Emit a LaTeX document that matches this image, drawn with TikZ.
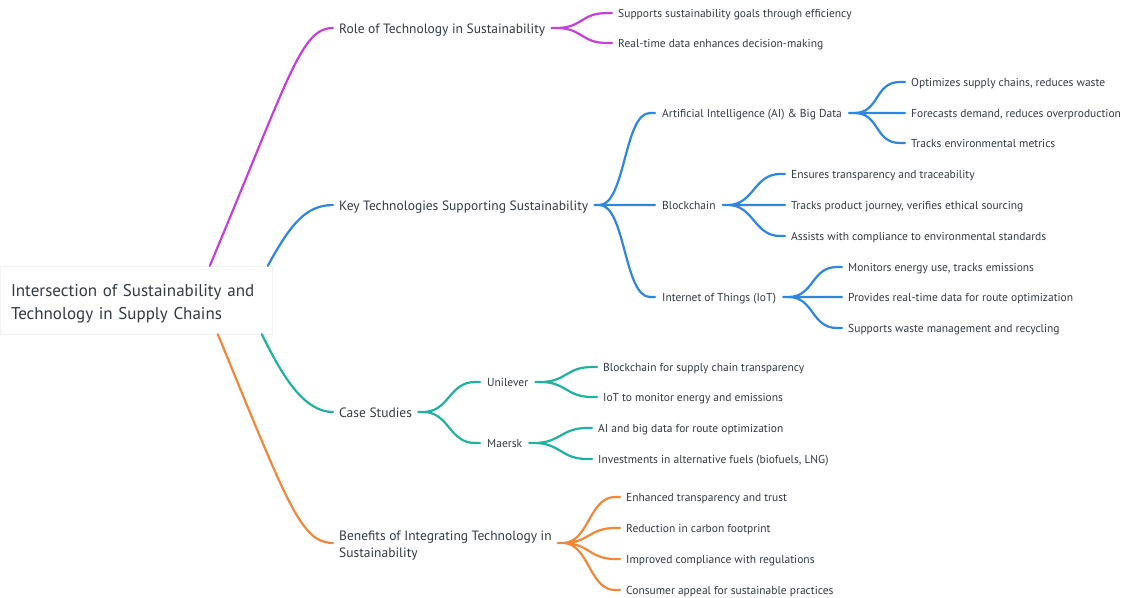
\documentclass[tikz,border=0pt]{standalone}
\usepackage{fontspec}
\setmainfont{PT Sans}
\usepackage{xcolor}
\definecolor{mapviolet}{RGB}{196,64,214}
\definecolor{mapblue}{RGB}{46,134,222}
\definecolor{mapteal}{RGB}{32,178,158}
\definecolor{maporange}{RGB}{240,136,58}
\definecolor{maptext}{RGB}{52,58,66}
\usepackage{tikz}
\usetikzlibrary{calc, positioning}

\begin{document}
\begin{tikzpicture}[x=1pt, y=-1pt, line cap=round]
  \tikzstyle{rootbox} = [rectangle, draw=black!5, fill=white, minimum width=272pt, minimum height=68pt, text width=250pt, align=left, inner xsep=11pt, text height=19pt, text depth=27pt, font=\fontsize{17}{23}\selectfont, text=maptext]
  \tikzstyle{topic} = [anchor=west, inner xsep=6pt, inner ysep=0pt, text height=10.5pt, text depth=0pt, align=left, font=\fontsize{13.5}{17}\selectfont, text=maptext]
  \tikzstyle{sub} = [anchor=west, inner xsep=7pt, inner ysep=0pt, text height=9pt, text depth=0pt, font=\fontsize{11.5}{13}\selectfont, text=maptext]
  \tikzstyle{leaf} = [anchor=west, inner xsep=6pt, inner ysep=0pt, text height=9pt, text depth=0pt, font=\fontsize{11.5}{13}\selectfont, text=maptext]
  \tikzstyle{link} = [line width=2.2pt]
  \tikzstyle{branch} = [line width=2.2pt, to path={(\tikztostart) -- ++(5,0) .. controls +(26,0) and +(-26,0) .. ([xshift=-5pt]\tikztotarget) -- (\tikztotarget)}]

  \useasboundingbox[fill=white] (0,0) rectangle (1131,597);

  \node [rootbox] (root) at (136,300) {Intersection of Sustainability and\\Technology in Supply Chains};

  \node [topic] (role) at (333,28) {Role of Technology in Sustainability};
  \node [topic] (key) at (333,205) {Key Technologies Supporting Sustainability};
  \node [topic] (cases) at (333,412) {Case Studies};
  \node [topic, text height=37pt, text depth=9pt] (benefits) at (333,543) {Benefits of Integrating Technology in\\Sustainability};

  % role of technology
  \node [leaf] (role1) at (612,13) {Supports sustainability goals through efficiency};
  \node [leaf] (role2) at (612,43) {Real-time data enhances decision-making};

  % key technologies
  \node [sub] (ai) at (655,113) {Artificial Intelligence (AI) \& Big Data};
  \node [sub] (chain) at (655,205) {Blockchain};
  \node [sub] (iot) at (655,297) {Internet of Things (IoT)};

  \node [leaf] (ai1) at (905,82) {Optimizes supply chains, reduces waste};
  \node [leaf] (ai2) at (905,113) {Forecasts demand, reduces overproduction};
  \node [leaf] (ai3) at (905,143) {Tracks environmental metrics};

  \node [leaf] (chain1) at (785,174) {Ensures transparency and traceability};
  \node [leaf] (chain2) at (785,205) {Tracks product journey, verifies ethical sourcing};
  \node [leaf] (chain3) at (785,236) {Assists with compliance to environmental standards};

  \node [leaf] (iot1) at (842,267) {Monitors energy use, tracks emissions};
  \node [leaf] (iot2) at (842,297) {Provides real-time data for route optimization};
  \node [leaf] (iot3) at (842,328) {Supports waste management and recycling};

  % case studies
  \node [sub] (unilever) at (480,382) {Unilever};
  \node [sub] (maersk) at (480,443) {Maersk};

  \node [leaf] (uni1) at (597,367) {Blockchain for supply chain transparency};
  \node [leaf] (uni2) at (597,397) {IoT to monitor energy and emissions};
  \node [leaf] (mae1) at (592,428) {AI and big data for route optimization};
  \node [leaf] (mae2) at (592,459) {Investments in alternative fuels (biofuels, LNG)};

  % benefits
  \node [leaf] (ben1) at (620,497) {Enhanced transparency and trust};
  \node [leaf] (ben2) at (620,528) {Reduction in carbon footprint};
  \node [leaf] (ben3) at (620,559) {Improved compliance with regulations};
  \node [leaf] (ben4) at (620,590) {Consumer appeal for sustainable practices};

  % from the root
  \draw [link, mapviolet] ([xshift=210pt]root.north west) .. controls +(80,-190) and +(-32,0) .. (role.west);
  \draw [link, mapblue] ([xshift=268pt]root.north west) .. controls +(22,-40) and +(-28,0) .. (key.west);
  \draw [link, mapteal] ([xshift=262pt]root.south west) .. controls +(22,45) and +(-28,0) .. (cases.west);
  \draw [link, maporange] ([xshift=218pt]root.south west) .. controls +(70,170) and +(-32,0) .. (benefits.west);

  \draw [branch, mapviolet] (role.east) to (role1.west) (role.east) to (role2.west);

  \draw [branch, mapblue] (key.east) to (ai.west) (key.east) to (chain.west) (key.east) to (iot.west);
  \draw [branch, mapblue] (ai.east) to (ai1.west) (ai.east) to (ai2.west) (ai.east) to (ai3.west);
  \draw [branch, mapblue] (chain.east) to (chain1.west) (chain.east) to (chain2.west) (chain.east) to (chain3.west);
  \draw [branch, mapblue] (iot.east) to (iot1.west) (iot.east) to (iot2.west) (iot.east) to (iot3.west);

  \draw [branch, mapteal] (cases.east) to (unilever.west) (cases.east) to (maersk.west);
  \draw [branch, mapteal] (unilever.east) to (uni1.west) (unilever.east) to (uni2.west);
  \draw [branch, mapteal] (maersk.east) to (mae1.west) (maersk.east) to (mae2.west);

  \draw [branch, maporange] (benefits.east) to (ben1.west) (benefits.east) to (ben2.west) (benefits.east) to (ben3.west) (benefits.east) to (ben4.west);
\end{tikzpicture}
\end{document}
